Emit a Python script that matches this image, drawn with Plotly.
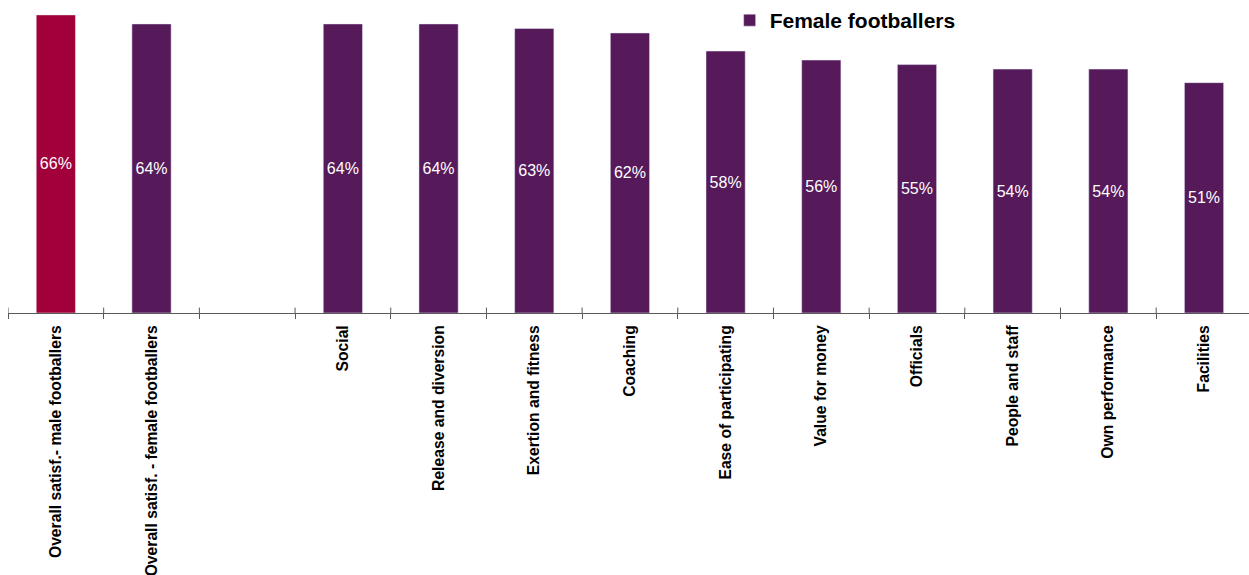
import plotly.graph_objects as go

categories = ["Overall satisf.- male footballers", "Overall satisf. - female footballers", " ",
              "Social", "Release and diversion", "Exertion and fitness", "Coaching",
              "Ease of participating", "Value for money", "Officials", "People and staff",
              "Own performance", "Facilities"]
male_values = [66, None, None, None, None, None, None, None, None, None, None, None, None]
female_values = [None, 64, None, 64, 64, 63, 62, 58, 56, 55, 54, 54, 51]

RED = "#A2003A"
PURPLE = "#561A5A"

fig = go.Figure()
fig.add_trace(go.Bar(x=categories, y=male_values, marker_color=RED, width=0.41,
                     showlegend=False, texttemplate="%{y:.0f}%", textposition="inside",
                     insidetextanchor="middle", textangle=0,
                     textfont=dict(family="Liberation Sans, Arial", size=16, color="white")))
fig.add_trace(go.Bar(x=categories, y=female_values, marker_color=PURPLE, width=0.41,
                     name="Female footballers", texttemplate="%{y:.0f}%", textposition="inside",
                     insidetextanchor="middle", textangle=0,
                     textfont=dict(family="Liberation Sans, Arial", size=16, color="white")))

# upper half of the tick marks (above the axis line)
for i in range(len(categories)):
    fig.add_shape(type="line", xref="x", yref="y", x0=i - 0.5, x1=i - 0.5, y0=0, y1=1.2,
                  line=dict(color="#595959", width=1))

fig.update_layout(
    width=1249, height=575,
    margin=dict(l=8, r=0, t=0, b=262, autoexpand=False),
    paper_bgcolor="white", plot_bgcolor="white",
    barmode="overlay",
    showlegend=True,
    legend=dict(x=0.5815, y=1.0, xanchor="left", yanchor="top",
                font=dict(family="Liberation Sans, Arial", size=21, color="black", weight="bold"),
                bgcolor="rgba(0,0,0,0)"),
    xaxis=dict(type="category", categoryorder="array", categoryarray=categories,
               range=[-0.5, 12.47],
               showline=True, linecolor="#595959", linewidth=1,
               ticks="outside", tickson="boundaries", ticklen=5, tickcolor="#595959",
               tickangle=-90, showgrid=False, automargin=False, ticklabelstandoff=5,
               tickfont=dict(family="Liberation Sans, Arial", size=15.7, color="black", weight="bold")),
    yaxis=dict(range=[0, 69.3], visible=False, showgrid=False, zeroline=False),
)

fig.write_html("out.html")
